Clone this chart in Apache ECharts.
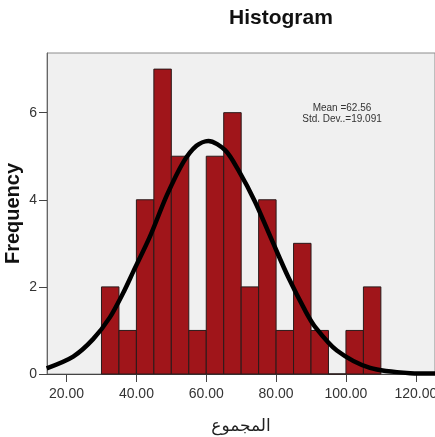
<!DOCTYPE html>
<html>
<head>
<meta charset="utf-8">
<script src="https://cdn.jsdelivr.net/npm/echarts@6/dist/echarts.min.js"></script>
<style>html,body{margin:0;padding:0;background:#fff}#c{width:435px;height:437px}</style>
</head>
<body>
<div id="c"></div>
<script>
// Histogram bins (start of each 5-unit bin) and frequencies
const binStarts = [30, 35, 40, 45, 50, 55, 60, 65, 70, 75, 80, 85, 90, 95, 100, 105];
const binWidth = 5;
const frequencies = [2, 1, 4, 7, 5, 1, 5, 6, 2, 4, 1, 3, 1, 0, 1, 2];
// Normal curve
const curveX = [14.3, 21.9, 27.6, 32.4, 36.2, 39.1, 43.9, 48.7, 53.4, 57.2, 60.6, 65.4, 69.2, 74.0, 78.7, 83.5, 88.3, 91.1, 97.4, 106.9, 118.4, 125.5];
const curveY = [0.13, 0.40, 0.80, 1.30, 1.86, 2.35, 3.16, 4.10, 4.86, 5.24, 5.35, 5.14, 4.68, 3.95, 3.09, 2.22, 1.46, 1.09, 0.54, 0.14, 0.02, 0.01];
const xTicks = [20, 40, 60, 80, 100, 120];
const yTicks = [0, 2, 4, 6];
const statLines = ['Mean =62.56', 'Std. Dev..=19.091'];

const chart = echarts.init(document.getElementById('c'));
const barData = binStarts.map((s, i) => [s, s + binWidth, frequencies[i]]);
const curveData = curveX.map((x, i) => [x, curveY[i]]);

chart.setOption({
  animation: false,
  backgroundColor: '#ffffff',
  title: {
    text: 'Histogram',
    left: 224, top: 3,
    textStyle: {fontFamily: 'Liberation Sans, Arial', fontSize: 21, fontWeight: 'bold', color: '#111'}
  },
  grid: {
    left: 47, top: 53, right: 0, bottom: 63,
    outerBoundsMode: 'none', containLabel: false,
    show: true, backgroundColor: '#f0f0f0', borderColor: '#8c8c8c', borderWidth: 1
  },
  xAxis: {
    type: 'value', min: 14.4, max: 125.5,
    name: 'المجموع', nameLocation: 'middle', nameGap: 44, nameMoveOverlap: false,
    nameTextStyle: {fontFamily: 'DejaVu Sans', fontSize: 17, color: '#222'},
    axisLine: {show: true, lineStyle: {color: '#444', width: 1}},
    axisTick: {show: true, length: 8, lineStyle: {color: '#444'}, customValues: xTicks},
    axisLabel: {customValues: xTicks, formatter: v => v.toFixed(2), margin: 13,
      fontFamily: 'Liberation Sans, Arial', fontSize: 14, color: '#333'},
    splitLine: {show: false}
  },
  yAxis: {
    type: 'value', min: 0, max: 7.37,
    name: 'Frequency', nameLocation: 'middle', nameGap: 24, nameMoveOverlap: false,
    nameTextStyle: {fontFamily: 'Liberation Sans, Arial', fontSize: 20, fontWeight: 'bold', color: '#111'},
    axisLine: {show: true, lineStyle: {color: '#666', width: 1}},
    axisTick: {show: true, length: 8, lineStyle: {color: '#444'}, customValues: yTicks},
    axisLabel: {customValues: yTicks, margin: 10,
      fontFamily: 'Liberation Sans, Arial', fontSize: 14, color: '#333'},
    splitLine: {show: false}
  },
  graphic: [{
    type: 'text', x: 342, y: 103,
    style: {text: statLines.join('\n'), fontFamily: 'Liberation Sans, Arial', fontSize: 10,
      fill: '#333', align: 'center', textAlign: 'center', lineHeight: 11}
  }],
  series: [{
    type: 'custom',
    data: barData,
    encode: {x: [0, 1], y: 2},
    renderItem: function (params, api) {
      const p0 = api.coord([api.value(0), api.value(2)]);
      const p1 = api.coord([api.value(1), 0]);
      return {
        type: 'rect',
        shape: {x: p0[0], y: p0[1], width: p1[0] - p0[0], height: p1[1] - p0[1]},
        style: {fill: '#a0151a', stroke: '#2a1a1a', lineWidth: 1}
      };
    },
    z: 2
  }, {
    type: 'line',
    data: curveData,
    smooth: 0.3,
    showSymbol: false,
    lineStyle: {color: '#000', width: 4.5},
    z: 3
  }]
});
</script>
</body>
</html>
